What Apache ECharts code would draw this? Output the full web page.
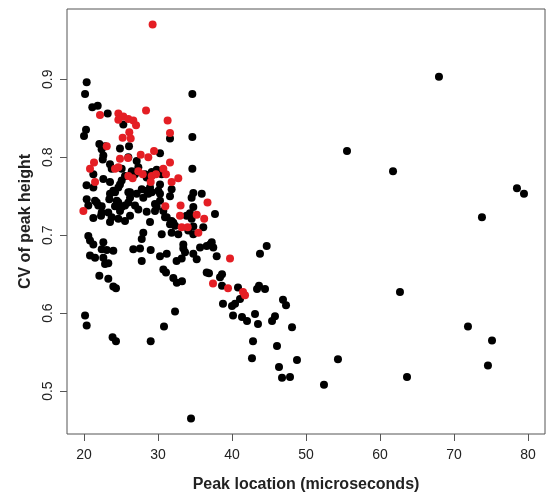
<!DOCTYPE html>
<html>
<head>
<meta charset="utf-8">
<script src="https://cdn.jsdelivr.net/npm/echarts@6/dist/echarts.min.js"></script>
<style>html,body{margin:0;padding:0;background:#fff}#c{width:546px;height:498px}</style>
</head>
<body>
<div id="c"></div>
<script>
var xTicks = [20, 30, 40, 50, 60, 70, 80];
var yTicks = [0.5, 0.6, 0.7, 0.8, 0.9];
var xTitle = 'Peak location (microseconds)';
var yTitle = 'CV of peak height';

var blackPoints = [
[20.36,0.896],[20.14,0.881],[34.64,0.881],[21.12,0.864],[21.85,0.866],[23.20,0.856],[25.31,0.842],
[20.27,0.835],[20.00,0.827],[31.62,0.824],[34.64,0.826],[22.07,0.817],[22.84,0.814],[24.86,0.811],
[26.08,0.814],[22.53,0.797],[22.61,0.802],[22.38,0.810],[25.99,0.800],[27.12,0.795],[23.51,0.791],
[23.74,0.785],[29.15,0.781],[30.04,0.780],[34.64,0.785],[27.34,0.787],[26.89,0.778],[21.26,0.778],
[25.54,0.776],[25.09,0.785],[28.47,0.774],[30.50,0.778],[30.27,0.805],
[20.34,0.764],[22.61,0.772],[23.51,0.768],[26.45,0.782],[28.24,0.778],[29.82,0.784],[21.26,0.761],
[23.96,0.757],[24.86,0.765],[24.64,0.761],[25.09,0.770],[26.22,0.755],[27.12,0.753],[27.80,0.759],
[28.92,0.761],[28.69,0.753],[30.04,0.757],[30.27,0.765],[31.62,0.750],[34.77,0.754],[35.91,0.753],
[20.36,0.746],[20.58,0.738],[21.49,0.744],[21.72,0.742],[21.93,0.738],[22.39,0.737],[22.39,0.729],
[22.30,0.725],[23.42,0.746],[23.51,0.753],[24.42,0.744],[24.19,0.755],[25.54,0.738],[25.99,0.742],
[25.99,0.755],[26.22,0.748],[24.64,0.742],[25.09,0.736],[27.34,0.733],[28.01,0.748],[28.47,0.757],
[29.15,0.755],[30.27,0.753],[30.27,0.744],[28.47,0.730],[29.59,0.731],[29.59,0.740],[29.82,0.736],
[26.89,0.738],[23.28,0.729],[24.19,0.737],[24.86,0.731],[21.26,0.722],[23.51,0.717],[24.64,0.721],
[25.54,0.718],[26.22,0.725],[23.74,0.723],[28.92,0.717],[31.18,0.723],[31.84,0.718],[30.72,0.731],
[20.58,0.699],[20.81,0.693],[21.26,0.688],[22.61,0.691],[22.39,0.682],[23.07,0.681],[23.96,0.680],
[20.81,0.674],[21.49,0.671],[22.61,0.671],[22.84,0.663],[23.28,0.664],[22.07,0.648],[23.28,0.644],
[23.96,0.634],[24.32,0.632],[28.01,0.703],[27.80,0.695],[26.66,0.682],[27.57,0.683],[29.01,0.681],
[30.50,0.701],[27.80,0.667],[31.18,0.676],[30.27,0.673],[32.51,0.667],[30.72,0.656],[31.08,0.652],
[32.07,0.645],[32.54,0.639],[33.24,0.641],[33.42,0.683],[33.65,0.678],[33.20,0.670],[35.23,0.669],
[35.68,0.684],[36.58,0.686],[36.58,0.652],[34.77,0.711],[31.84,0.703],[32.74,0.701],[31.84,0.759],
[34.54,0.748],[34.77,0.736],[30.95,0.723],[32.07,0.716],[33.86,0.725],[34.32,0.728],[34.54,0.721],
[32.30,0.712],[31.62,0.714],[36.12,0.710],[37.70,0.727],[34.09,0.706],[34.77,0.701],[37.03,0.688],
[37.26,0.691],[37.47,0.684],[33.42,0.688],[34.77,0.676],[37.93,0.673],[44.69,0.686],[43.78,0.676],
[36.89,0.651],[38.65,0.650],[38.38,0.646],[38.65,0.635],[40.81,0.633],[43.65,0.635],[43.38,0.631],
[44.46,0.631],[41.08,0.618],[40.41,0.612],[40.00,0.609],[38.78,0.612],[46.89,0.617],[47.30,0.610],
[40.14,0.597],[41.35,0.595],[42.03,0.590],[43.11,0.599],[43.51,0.586],[45.81,0.596],[45.41,0.590],
[48.11,0.582],[42.84,0.564],[46.08,0.558],[42.70,0.542],[48.78,0.540],[54.32,0.541],[46.35,0.531],
[46.76,0.517],[47.84,0.518],[52.43,0.508],
[20.14,0.597],[20.36,0.584],[23.86,0.569],[24.32,0.564],[29.01,0.564],[30.81,0.583],[32.30,0.602],
[34.46,0.465],
[67.97,0.903],[55.54,0.808],[61.76,0.782],[78.51,0.760],[79.46,0.753],[73.78,0.723],[62.70,0.627],
[71.89,0.583],[75.14,0.565],[74.59,0.533],[63.65,0.518]
];

var redPoints = [
[29.27,0.970],[22.16,0.854],[24.64,0.856],[25.31,0.852],[24.64,0.848],[25.99,0.849],[26.66,0.847],
[27.03,0.841],[28.38,0.860],[31.30,0.847],[31.62,0.831],[26.12,0.832],[26.31,0.824],[25.22,0.825],
[23.07,0.814],[29.46,0.808],[27.66,0.803],[28.69,0.800],[24.86,0.798],[24.64,0.787],[24.19,0.785],
[25.95,0.799],[31.62,0.793],[21.35,0.793],[20.81,0.785],[30.72,0.785],[31.08,0.778],[27.93,0.778],
[29.15,0.776],[32.74,0.773],[25.99,0.776],[27.34,0.782],[21.49,0.768],[26.57,0.773],[29.01,0.768],
[29.73,0.778],[31.84,0.768],[19.91,0.731],[30.99,0.737],[33.05,0.738],[32.97,0.725],[35.23,0.726],
[36.24,0.721],[33.20,0.710],[34.01,0.710],[35.45,0.703],[36.69,0.742],[39.73,0.670],[37.43,0.638],
[39.46,0.632],[41.49,0.627],[41.76,0.623]
];

var chart = echarts.init(document.getElementById('c'), null, {renderer: 'canvas'});
var font = 'Liberation Sans, Arial, Helvetica, sans-serif';
chart.setOption({
  animation: false,
  backgroundColor: '#fff',
  grid: {left: 67, right: 1, top: 9, bottom: 63, show: true, borderColor: '#555', borderWidth: 1, backgroundColor: 'transparent'},
  xAxis: {
    type: 'value', min: 17.7, max: 82.3,
    name: xTitle, nameLocation: 'middle', nameGap: 43,
    nameTextStyle: {fontFamily: font, fontSize: 16, fontWeight: 'bold', color: '#222'},
    axisLine: {show: false},
    axisTick: {show: true, inside: false, length: 7, lineStyle: {color: '#555'}, customValues: xTicks},
    axisLabel: {show: true, margin: 14, fontFamily: font, fontSize: 14, color: '#222', customValues: xTicks,
      formatter: function (v) { return String(Math.round(v)); }},
    splitLine: {show: false}
  },
  yAxis: {
    type: 'value', min: 0.445, max: 0.990,
    name: yTitle, nameLocation: 'middle', nameGap: 33,
    nameTextStyle: {fontFamily: font, fontSize: 16, fontWeight: 'bold', color: '#222'},
    axisLine: {show: false},
    axisTick: {show: true, inside: false, length: 7, lineStyle: {color: '#555'}, customValues: yTicks},
    axisLabel: {show: true, rotate: 90, margin: 12, fontFamily: font, fontSize: 14, color: '#222', customValues: yTicks,
      formatter: function (v) { return v.toFixed(1); }},
    splitLine: {show: false}
  },
  series: [
    {type: 'scatter', data: blackPoints, symbol: 'circle', symbolSize: 8, itemStyle: {color: '#000', opacity: 1}},
    {type: 'scatter', data: redPoints, symbol: 'circle', symbolSize: 8, itemStyle: {color: '#e41e24', opacity: 1}}
  ]
});
</script>
</body>
</html>
